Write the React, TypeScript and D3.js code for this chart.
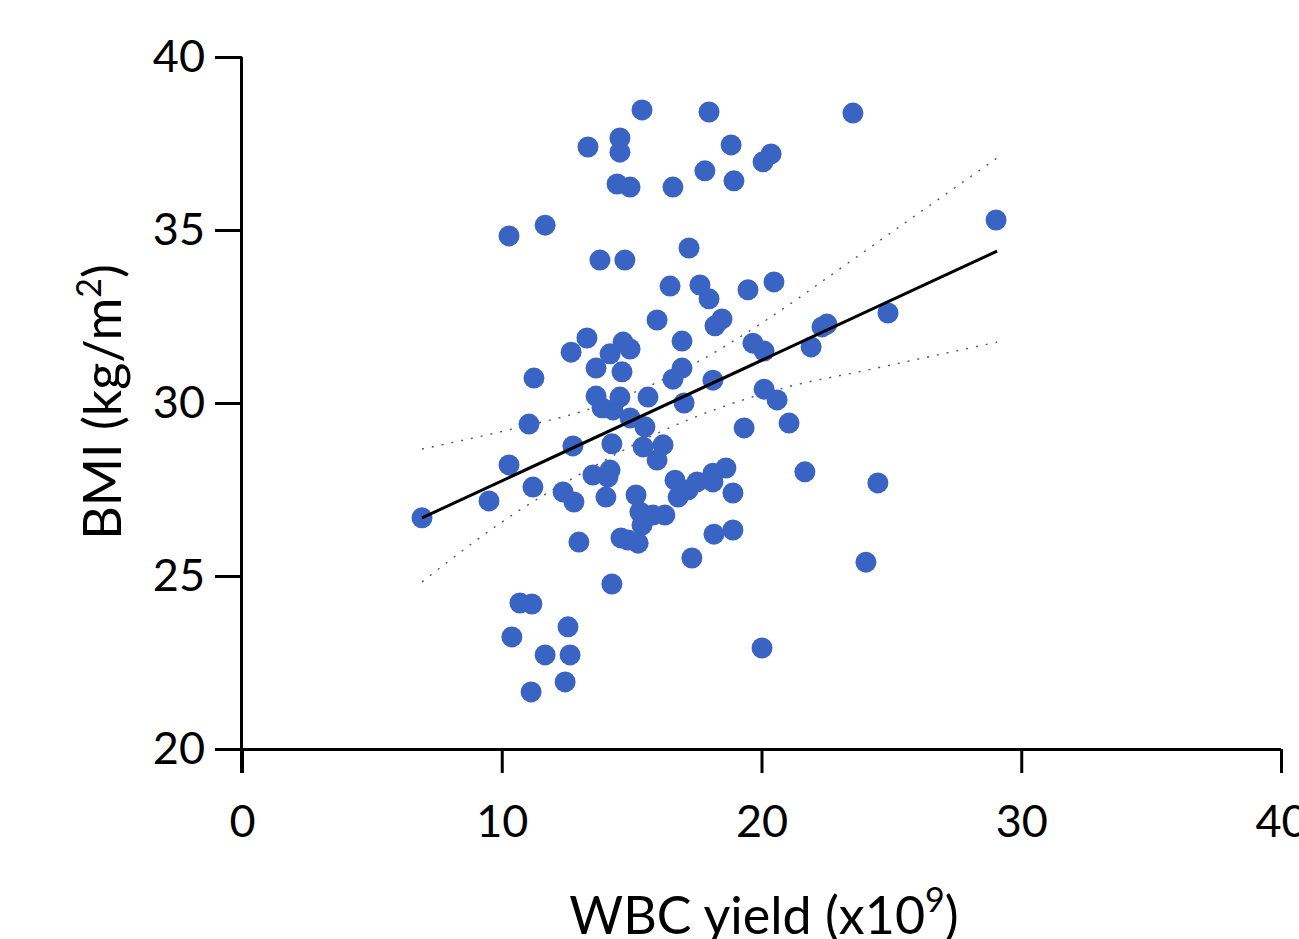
import { useEffect, useRef } from 'react'
import * as d3 from 'd3'

// WBC yield (x10^9) vs BMI, one entry per donor
const wbc = [
  15.40, 17.98, 23.52, 14.55, 14.55, 13.32, 18.83, 20.37, 20.06, 17.82,
  18.94, 14.44, 14.94, 16.59, 10.28, 11.67, 13.78, 14.74, 17.21, 16.48,
  17.63, 17.98, 19.48, 20.48, 15.98, 16.94, 18.21, 18.48, 13.28, 12.67,
  14.67, 14.94, 14.17, 13.63, 14.63, 16.94, 16.59, 18.13, 19.67, 20.10,
  21.91, 22.33, 22.52, 11.24, 13.63, 14.55, 15.63, 17.02, 20.10, 20.60,
  13.86, 14.28, 14.94, 15.51, 11.05, 19.33, 21.06, 12.74, 14.24, 15.44,
  16.21, 15.98, 10.28, 13.51, 14.17, 14.09, 9.51, 11.20, 12.36, 12.78,
  14.01, 6.93, 15.17, 16.67, 17.17, 17.52, 16.79, 18.13, 18.63, 18.13,
  18.90, 21.67, 15.32, 15.82, 16.28, 15.40, 14.59, 14.86, 15.25, 18.17,
  18.90, 12.97, 17.32, 14.24, 10.70, 11.16, 12.55, 10.39, 11.67, 12.63,
  12.44, 11.13, 20.02, 29.03, 24.87, 24.48, 24.02,
]
const bmi = [
  38.47, 38.41, 38.38, 37.66, 37.25, 37.40, 37.46, 37.20, 36.97, 36.71,
  36.42, 36.33, 36.24, 36.24, 34.83, 35.14, 34.13, 34.13, 34.48, 33.38,
  33.41, 33.01, 33.27, 33.50, 32.40, 31.79, 32.23, 32.43, 31.88, 31.47,
  31.76, 31.56, 31.42, 31.01, 30.90, 31.01, 30.69, 30.66, 31.73, 31.50,
  31.62, 32.20, 32.28, 30.72, 30.20, 30.17, 30.17, 30.00, 30.40, 30.09,
  29.86, 29.80, 29.57, 29.31, 29.39, 29.28, 29.42, 28.76, 28.82, 28.73,
  28.79, 28.35, 28.21, 27.92, 28.06, 27.86, 27.17, 27.57, 27.43, 27.14,
  27.28, 26.68, 27.34, 27.77, 27.49, 27.72, 27.28, 27.97, 28.12, 27.72,
  27.40, 28.01, 26.85, 26.76, 26.76, 26.47, 26.10, 26.04, 25.95, 26.21,
  26.33, 25.98, 25.52, 24.77, 24.22, 24.19, 23.53, 23.24, 22.72, 22.72,
  21.94, 21.65, 22.92, 35.29, 32.60, 27.69, 25.40,
]

// linear fit and 95% confidence band
const fitX = [6.93, 29.07]
const fitY = [26.68, 34.39]
const upperX = [6.93, 10.59, 13.28, 16.17, 21.48, 22.25, 29.07]
const upperY = [28.67, 29.28, 29.80, 30.66, 33.06, 33.47, 37.08]
const lowerX = [6.93, 10.70, 12.82, 16.09, 20.83, 24.06, 29.07]
const lowerY = [24.83, 26.91, 27.86, 29.16, 30.43, 30.95, 31.76]

const xTicks = [0, 10, 20, 30, 40]
const yTicks = [20, 25, 30, 35, 40]

export default function App() {
  const svgRef = useRef<SVGSVGElement>(null)

  useEffect(() => {
    if (!svgRef.current) return
    const svg = d3.select(svgRef.current)
    svg.selectAll('*').remove()

    const margin = { top: 57, right: 18, bottom: 190, left: 242 }
    const width = 1299 - margin.left - margin.right
    const height = 939 - margin.top - margin.bottom
    const font = 'Lato, "Open Sans", sans-serif'

    const g = svg.append('g').attr('transform', `translate(${margin.left},${margin.top})`)

    const x = d3.scaleLinear().domain([0, 40]).range([0, width])
    const y = d3.scaleLinear().domain([20, 40]).range([height, 0])

    // axes, Prism style: outward ticks, crossing at (0, 20)
    const xAxis = g.append('g').attr('transform', `translate(0,${height})`)
      .call(d3.axisBottom(x).tickValues(xTicks).tickSize(24).tickSizeOuter(0).tickPadding(32))
    const yAxis = g.append('g')
      .call(d3.axisLeft(y).tickValues(yTicks).tickSize(27).tickSizeOuter(0).tickPadding(10))
    ;[xAxis, yAxis].forEach(ax => {
      ax.select('.domain').attr('stroke', '#000').attr('stroke-width', 3)
      ax.selectAll('line').attr('stroke', '#000').attr('stroke-width', 3)
      ax.selectAll('text').style('font-family', font).style('font-size', '45px').attr('fill', '#000')
    })
    xAxis.select('.domain').attr('d', `M-27,0.5H${width}`)
    yAxis.select('.domain').attr('d', `M-0.5,0V${height + 24}`)

    const curve = (xs: number[], ys: number[]) =>
      d3.line<number>().x(i => x(xs[i])).y(i => y(ys[i])).curve(d3.curveMonotoneX)(xs.map((_, i) => i))

    // confidence band (dotted)
    g.append('path').attr('d', curve(upperX, upperY)).attr('fill', 'none')
      .attr('stroke', '#555').attr('stroke-width', 1.4).attr('stroke-dasharray', '2 8')
    g.append('path').attr('d', curve(lowerX, lowerY)).attr('fill', 'none')
      .attr('stroke', '#555').attr('stroke-width', 1.4).attr('stroke-dasharray', '2 8')

    // points
    g.selectAll('.dot').data(wbc.map((v, i) => [v, bmi[i]])).enter().append('circle')
      .attr('class', 'dot')
      .attr('cx', d => x(d[0])).attr('cy', d => y(d[1]))
      .attr('r', 10.5).attr('fill', '#3a64c3')

    // fit line
    g.append('path').attr('d', curve(fitX, fitY)).attr('fill', 'none')
      .attr('stroke', '#000').attr('stroke-width', 3)

    // axis titles
    const yt = svg.append('text').attr('transform', 'rotate(-90)')
      .attr('x', -402).attr('y', 121).attr('text-anchor', 'middle')
      .style('font-family', font).style('font-size', '52px').attr('fill', '#000')
    yt.append('tspan').text('BMI (kg/m')
    yt.append('tspan').attr('dy', -20).style('font-size', '34px').text('2')
    yt.append('tspan').attr('dy', 20).text(')')

    const xt = svg.append('text')
      .attr('x', 764).attr('y', 934).attr('text-anchor', 'middle')
      .style('font-family', font).style('font-size', '52px').attr('fill', '#000')
    xt.append('tspan').text('WBC yield (x10')
    xt.append('tspan').attr('dy', -22).style('font-size', '34px').text('9')
    xt.append('tspan').attr('dy', 22).text(')')
  }, [])

  return (
    <svg ref={svgRef} width={1299} height={939}
      style={{ position: 'absolute', left: 0, top: 0, background: '#fff' }} />
  )
}
